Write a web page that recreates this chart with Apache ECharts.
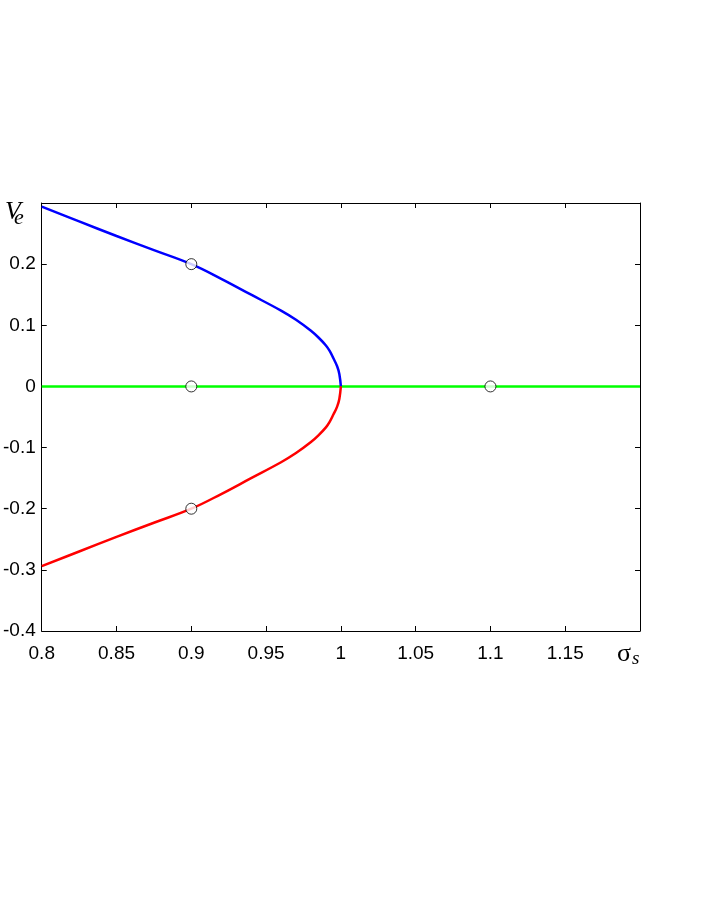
<!DOCTYPE html>
<html>
<head>
<meta charset="utf-8">
<script src="https://cdn.jsdelivr.net/npm/echarts@6/dist/echarts.min.js"></script>
<style>
  html, body { margin: 0; padding: 0; background: #fff; }
  #chart { width: 706px; height: 913px; }
</style>
</head>
<body>
<div id="chart"></div>
<script>
// 分岔图数据
var sigmaBranch = [0.80, 0.825, 0.85, 0.875, 0.90, 0.92, 0.94, 0.96, 0.97, 0.98, 0.985, 0.99, 0.9925, 0.995, 0.9975, 0.999, 1.0]
var veUpper = [0.294, 0.270, 0.246, 0.223, 0.200, 0.176, 0.150, 0.124, 0.109, 0.091, 0.080, 0.067, 0.058, 0.046, 0.033, 0.020, 0]
var veLower = [-0.294, -0.270, -0.246, -0.223, -0.200, -0.176, -0.150, -0.124, -0.109, -0.091, -0.080, -0.067, -0.058, -0.046, -0.033, -0.020, 0]
var sigmaZero = [0.8, 1.2]
var veZero = [0, 0]
// 圆圈标记点
var markSigma = [0.9, 0.9, 0.9, 1.1]
var markVe = [0.2, 0, -0.2, 0]

var xMin = 0.8
var xMax = 1.2
var xStep = 0.05
var yMin = -0.4
var yMax = 0.3
var yStep = 0.1

function pairs(xs, ys) {
  return xs.map(function(x, i) { return [x, ys[i]] })
}

var chart = echarts.init(document.getElementById('chart'))

var axisLineStyle = { color: '#000', width: 1 }
var tickStyle = { show: true, inside: true, length: 5, lineStyle: { color: '#000', width: 1 } }

function labelText(x, y, text, size, italic) {
  return {
    type: 'text',
    left: x,
    top: y,
    style: {
      text: text,
      fill: '#000',
      fontFamily: 'Liberation Serif',
      fontSize: size,
      fontStyle: italic ? 'italic' : 'normal'
    }
  }
}

chart.setOption({
  backgroundColor: '#fff',
  animation: false,
  grid: {
    left: 41,
    right: 66,
    top: 203,
    bottom: 282,
    containLabel: false
  },
  xAxis: [{
    type: 'value',
    min: xMin,
    max: xMax,
    interval: xStep,
    position: 'bottom',
    axisLine: { show: true, onZero: false, lineStyle: axisLineStyle },
    axisTick: tickStyle,
    splitLine: { show: false },
    axisLabel: {
      margin: 13,
      color: '#000',
      fontFamily: 'Liberation Sans',
      fontSize: 19,
      formatter: function(v) {
        if (Math.abs(v - xMax) < 1e-6) return '' // 1.2 处放 σs
        return String(parseFloat(v.toFixed(2)))
      }
    }
  }, {
    type: 'value',
    min: xMin,
    max: xMax,
    interval: xStep,
    position: 'top',
    axisLine: { show: true, onZero: false, lineStyle: axisLineStyle },
    axisTick: tickStyle,
    splitLine: { show: false },
    axisLabel: { show: false }
  }],
  yAxis: [{
    type: 'value',
    min: yMin,
    max: yMax,
    interval: yStep,
    position: 'left',
    axisLine: { show: true, onZero: false, lineStyle: axisLineStyle },
    axisTick: tickStyle,
    splitLine: { show: false },
    axisLabel: {
      margin: 6,
      color: '#000',
      fontFamily: 'Liberation Sans',
      fontSize: 19,
      formatter: function(v) {
        if (Math.abs(v - yMax) < 1e-6) return '' // 0.3 处放 Ve
        return String(parseFloat(v.toFixed(2)))
      }
    }
  }, {
    type: 'value',
    min: yMin,
    max: yMax,
    interval: yStep,
    position: 'right',
    axisLine: { show: true, onZero: false, lineStyle: axisLineStyle },
    axisTick: tickStyle,
    splitLine: { show: false },
    axisLabel: { show: false }
  }],
  graphic: [
    labelText(5, 199, 'V', 26, true),
    labelText(14, 207, 'e', 22, true),
    labelText(617, 641, 'σ', 26, false),
    labelText(632, 649, 's', 19, true)
  ],
  series: [{
    name: 'zero',
    type: 'line',
    data: pairs(sigmaZero, veZero),
    showSymbol: false,
    lineStyle: { color: '#00ff00', width: 2.5 },
    z: 2
  }, {
    name: 'upper',
    type: 'line',
    data: pairs(sigmaBranch, veUpper),
    smooth: 0.4,
    showSymbol: false,
    lineStyle: { color: '#0000ff', width: 2.5 },
    z: 3
  }, {
    name: 'lower',
    type: 'line',
    data: pairs(sigmaBranch, veLower),
    smooth: 0.4,
    showSymbol: false,
    lineStyle: { color: '#ff0000', width: 2.5 },
    z: 3
  }, {
    name: 'marks',
    type: 'scatter',
    data: pairs(markSigma, markVe),
    symbol: 'circle',
    symbolSize: 11,
    itemStyle: { color: '#fff', borderColor: '#000', borderWidth: 1 },
    z: 5
  }]
})
</script>
</body>
</html>
